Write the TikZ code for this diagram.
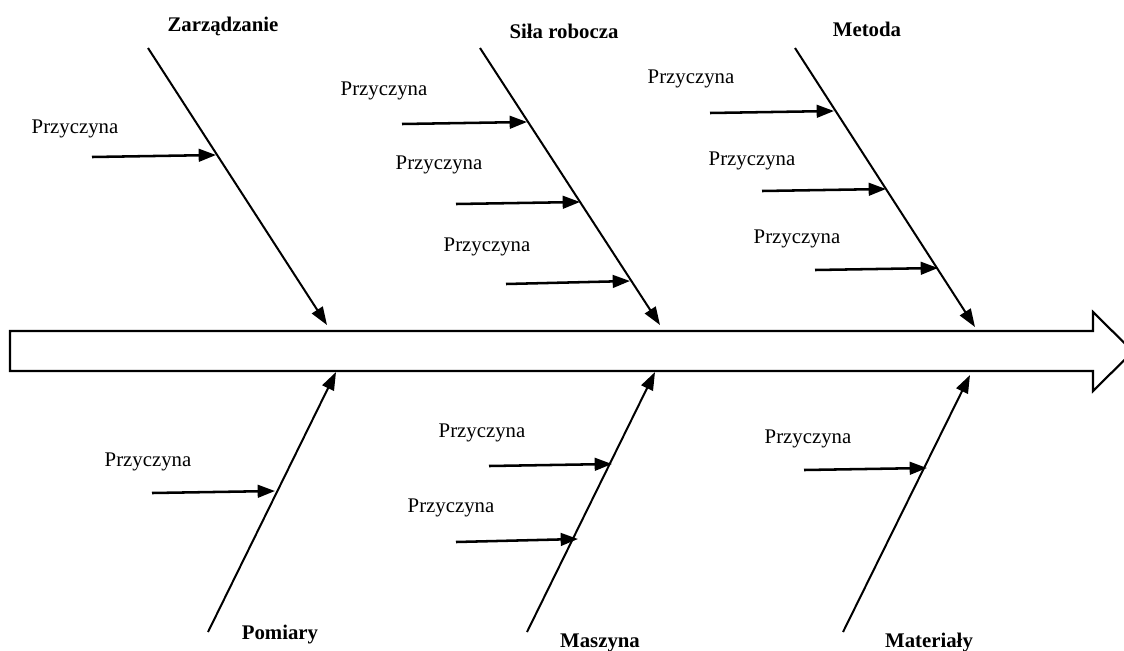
\documentclass[tikz,border=0pt]{standalone}
\usepackage{fontspec}
\setmainfont{Liberation Serif}
\usetikzlibrary{arrows.meta}
\tikzset{
  bone/.style={line width=1.5pt, -{Triangle[length=13.5pt,width=9.5pt]}},
  cause/.style={line width=1.9pt, -{Triangle[length=13pt,width=9.5pt]}},
  spine/.style={line width=1.6pt, fill=white},
  causetext/.style={anchor=base, inner sep=0pt, font=\fontsize{15.6pt}{18pt}\selectfont},
  category/.style={anchor=base, inner sep=0pt, font=\fontsize{15.6pt}{18pt}\selectfont\bfseries},
}
\begin{document}
\begin{tikzpicture}[x=0.75pt, y=-0.75pt]
\useasboundingbox (0,0) rectangle (1124,650);
\clip (0,0) rectangle (1124,650);

% spine (effect arrow)
\coordinate (s1) at (10,331);
\coordinate (s2) at (1093,331);
\coordinate (s3) at (1093,312);
\coordinate (tip) at (1133,351.5);
\coordinate (s4) at (1093,391);
\coordinate (s5) at (1093,371);
\coordinate (s6) at (10,371);
\draw[spine] (s1) -- (s2) -- (s3) -- (tip) -- (s4) -- (s5) -- (s6) -- cycle;

% upper bones
\coordinate (zA) at (148,48);  \coordinate (zB) at (327,325);
\coordinate (sA) at (480,48);  \coordinate (sB) at (660,325);
\coordinate (mA) at (795,48);  \coordinate (mB) at (975,327);
% lower bones
\coordinate (pA) at (208,632); \coordinate (pB) at (336,372);
\coordinate (yA) at (527,632); \coordinate (yB) at (655,372);
\coordinate (tA) at (843,632); \coordinate (tB) at (970,375);

\draw[bone] (zA) -- (zB);
\draw[bone] (sA) -- (sB);
\draw[bone] (mA) -- (mB);
\draw[bone] (pA) -- (pB);
\draw[bone] (yA) -- (yB);
\draw[bone] (tA) -- (tB);

% category labels
\node[category] (lz) at (223,31) {Zarządzanie};
\node[category] (ls) at (564,38) {Siła robocza};
\node[category] (lm) at (867,36) {Metoda};
\node[category] (lp) at (280,639) {Pomiary};
\node[category] (ly) at (600,647) {Maszyna};
\node[category] (lt) at (929,647) {Materiały};

% cause arrows: start points and points on the bones
\coordinate (c1a) at (92,157);  \coordinate (c1b) at (216,155);
\coordinate (c2a) at (402,124); \coordinate (c2b) at (527,122);
\coordinate (c3a) at (456,204); \coordinate (c3b) at (580,202);
\coordinate (c4a) at (506,284); \coordinate (c4b) at (630,281);
\coordinate (c5a) at (710,113); \coordinate (c5b) at (834,111);
\coordinate (c6a) at (762,191); \coordinate (c6b) at (886,189);
\coordinate (c7a) at (815,270); \coordinate (c7b) at (938,268);
\coordinate (c8a) at (152,493); \coordinate (c8b) at (275,491);
\coordinate (c9a) at (489,466); \coordinate (c9b) at (612,464);
\coordinate (c10a) at (456,542); \coordinate (c10b) at (578,539);
\coordinate (c11a) at (804,470); \coordinate (c11b) at (927,468);

\foreach \i in {1,...,11} \draw[cause] (c\i a) -- (c\i b);

% cause labels
\node[causetext] (t1) at (75,133) {Przyczyna};
\node[causetext] (t2) at (384,95) {Przyczyna};
\node[causetext] (t3) at (439,169) {Przyczyna};
\node[causetext] (t4) at (487,251) {Przyczyna};
\node[causetext] (t5) at (691,83) {Przyczyna};
\node[causetext] (t6) at (752,165) {Przyczyna};
\node[causetext] (t7) at (797,243) {Przyczyna};
\node[causetext] (t8) at (148,466) {Przyczyna};
\node[causetext] (t9) at (482,437) {Przyczyna};
\node[causetext] (t10) at (451,512) {Przyczyna};
\node[causetext] (t11) at (808,443) {Przyczyna};
\end{tikzpicture}
\end{document}
